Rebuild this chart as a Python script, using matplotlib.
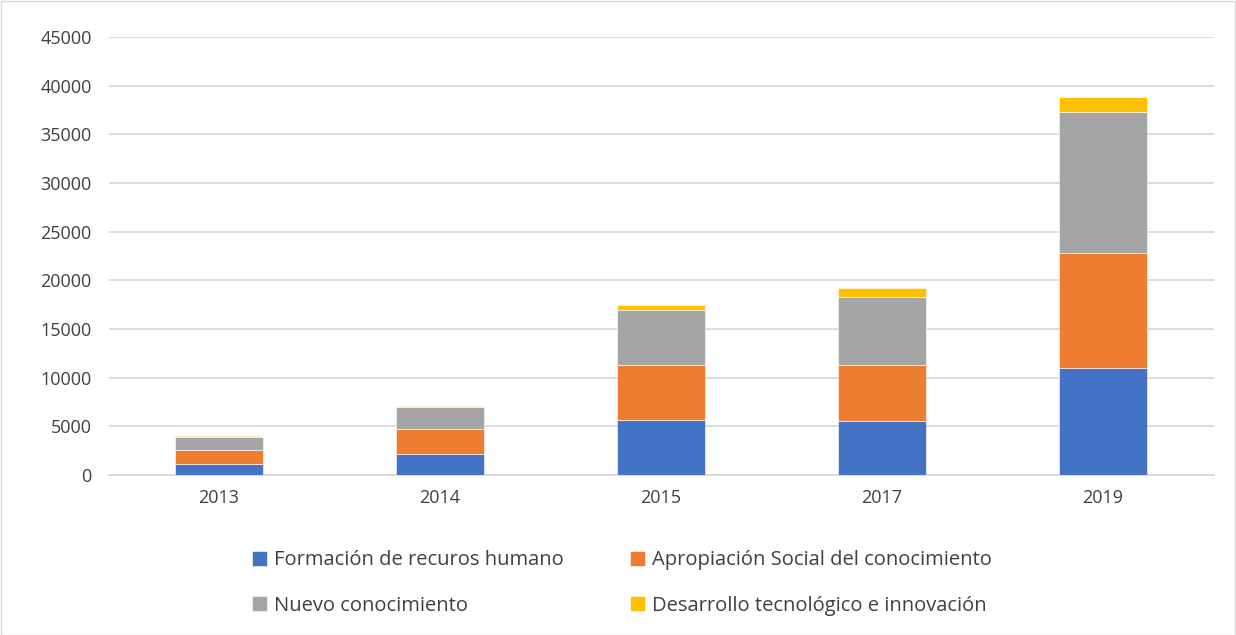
import matplotlib
matplotlib.use("Agg")
import matplotlib.pyplot as plt
from matplotlib.patches import Rectangle
import numpy as np

years = ["2013", "2014", "2015", "2017", "2019"]
formacion = [1170, 2200, 5650, 5580, 10960]
apropiacion = [1390, 2560, 5690, 5760, 11850]
nuevo = [1300, 2200, 5650, 6980, 14520]
desarrollo = [100, 180, 510, 900, 1540]

series_names = ["Formación de recuros humano", "Apropiación Social del conocimiento",
                "Nuevo conocimiento", "Desarrollo tecnológico e innovación"]
colors = ["#4472C4", "#ED7D31", "#A5A5A5", "#FFC000"]
yticks = [0, 5000, 10000, 15000, 20000, 25000, 30000, 35000, 40000, 45000]

plt.rcParams['font.family'] = ['Open Sans', 'DejaVu Sans']

W, H = 1236, 635
fig = plt.figure(figsize=(W/100, H/100), dpi=100)
ax = fig.add_axes([108.5/W, 1-475/H, 1105/W, (475-37)/H])

x = np.arange(len(years))
bottom = np.zeros(len(years))
handles = []
for vals, c, name in zip([formacion, apropiacion, nuevo, desarrollo], colors, series_names):
    b = ax.bar(x, vals, 0.4, bottom=bottom, color=c, label=name, zorder=3,
               edgecolor="white", linewidth=0.4)
    handles.append(b)
    bottom += np.array(vals)

ax.set_xlim(-0.5, len(years) - 0.5)
ax.set_ylim(0, 45000)
ax.set_yticks(yticks)
ax.set_yticklabels([str(v) for v in yticks])
ax.set_xticks(x)
ax.set_xticklabels(years)
ax.grid(axis='y', color='#D9D9D9', linewidth=1.3, zorder=0)
for s in ['top', 'right', 'left']:
    ax.spines[s].set_visible(False)
ax.spines['bottom'].set_color('#D9D9D9')
ax.spines['bottom'].set_linewidth(1.3)
ax.tick_params(axis='both', length=0, labelsize=13, colors='#404040', pad=10)
ax.tick_params(axis='y', pad=12)

order = [0, 2, 1, 3]
leg = fig.legend(handles=[handles[i] for i in order], labels=[series_names[i] for i in order],
                 ncol=2, loc='center',
                 bbox_to_anchor=(622/W, 1-583/H), frameon=False, fontsize=14.5,
                 handlelength=0.75, handleheight=0.75, handletextpad=0.35,
                 columnspacing=3.3, labelspacing=1.25)
for t in leg.get_texts():
    t.set_color('#404040')

fig.patches.append(Rectangle((0.5/W, 0.5/H), 1-1.5/W, 1-1.5/H, transform=fig.transFigure,
                             fill=False, edgecolor='#D9D9D9', linewidth=1))

fig.savefig("out.png", dpi=100, facecolor='white')
